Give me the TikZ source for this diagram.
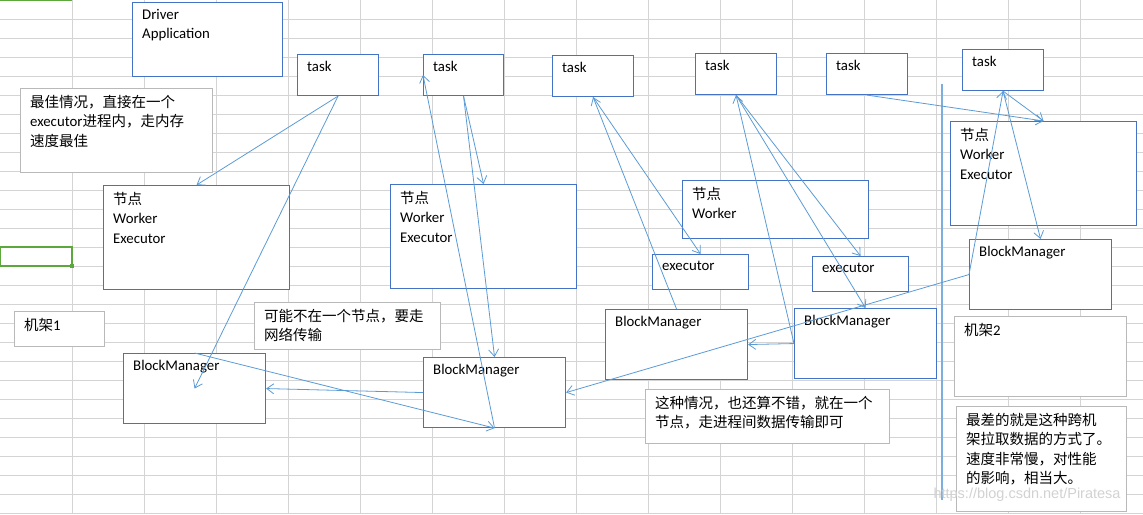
\documentclass[tikz,border=0pt]{standalone}
\usepackage{fontspec}
\setmainfont{Carlito}
\newfontfamily\cjk{Noto Sans CJK SC}
\newcommand{\zh}[1]{{\fontsize{14.5}{19.5}\cjk #1}}
\usetikzlibrary{arrows.meta}
\definecolor{boxblue}{RGB}{68,114,196}
\definecolor{linkblue}{RGB}{91,155,213}
\definecolor{gridgray}{RGB}{212,212,212}
\definecolor{selgreen}{RGB}{92,168,60}
\tikzset{
  box/.style={draw=boxblue, line width=1.1pt, fill=white, anchor=north west, inner sep=0pt},
  note/.style={draw=gray!55, line width=0.9pt, fill=white, anchor=north west, inner sep=0pt},
  txt/.style={anchor=north west, inner sep=0pt, xshift=10pt, yshift=-7pt, align=left,
    font=\fontsize{14.8}{19.5}\selectfont},
  link/.style={draw=linkblue, line width=0.8pt, -{Straight Barb[length=7pt,width=10pt]}},
}
\begin{document}
\begin{tikzpicture}[x=1pt,y=-1pt]
  \useasboundingbox (0,0) rectangle (1143,514);
  % sheet grid
  \foreach \gx in {72,144,...,1080} \draw[gridgray, line width=0.8pt] (\gx,0) -- (\gx,514);
  \foreach \gy in {19,38,...,513} \draw[gridgray, line width=0.8pt] (0,\gy) -- (1143,\gy);
  \draw[selgreen, line width=2pt] (0,0) -- (72,0);
  \draw[selgreen, line width=2.5pt] (0,247) rectangle (72,266);
  \fill[selgreen] (70,264) rectangle (74,268);
  % boxes
  \node[box, minimum width=150, minimum height=74, label={[txt]north west:Driver\\Application}] (drv) at (132,2) {};
  \node[box, minimum width=81, minimum height=41, label={[txt]north west:task}] (tA) at (297,54) {};
  \node[box, minimum width=80, minimum height=41, label={[txt]north west:task}] (tB) at (423,54) {};
  \node[box, minimum width=81, minimum height=41, label={[txt]north west:task}] (tC) at (552,55) {};
  \node[box, minimum width=81, minimum height=41, label={[txt]north west:task}] (tD) at (695,53) {};
  \node[box, minimum width=81, minimum height=41, label={[txt]north west:task}] (tE) at (826,53) {};
  \node[box, minimum width=81, minimum height=41, label={[txt]north west:task}] (tF) at (962,49) {};
  \node[box, minimum width=186, minimum height=104, label={[txt]north west:\zh{节点}\\Worker\\Executor}] (wA) at (103,185) {};
  \node[box, minimum width=186, minimum height=104, label={[txt]north west:\zh{节点}\\Worker\\Executor}] (wB) at (390,184) {};
  \node[box, minimum width=186, minimum height=58, label={[txt]north west:\zh{节点}\\Worker}] (wC) at (682,180) {};
  \node[box, minimum width=186, minimum height=104, label={[txt]north west:\zh{节点}\\Worker\\Executor}] (wF) at (950,121) {};
  \node[box, minimum width=96, minimum height=35, label={[txt]north west:executor}] (exA) at (652,254) {};
  \node[box, minimum width=96, minimum height=35, label={[txt]north west:executor}] (exB) at (812,256) {};
  \node[box, minimum width=142, minimum height=70, label={[txt]north west:BlockManager}] (bmA) at (123,353) {};
  \node[box, minimum width=142, minimum height=70, label={[txt]north west:BlockManager}] (bmB) at (423,357) {};
  \node[box, minimum width=142, minimum height=70, label={[txt]north west:BlockManager}] (bmC) at (605,309) {};
  \node[box, minimum width=142, minimum height=70, label={[txt]north west:BlockManager}] (bmD) at (794,308) {};
  \node[box, minimum width=142, minimum height=70, label={[txt]north west:BlockManager}] (bmF) at (969,239) {};
  % notes
  \node[note, minimum width=192, minimum height=84, label={[txt]north west:\zh{最佳情况，直接在一个}\\executor\zh{进程内，走内存}\\\zh{速度最佳}}] (nBest) at (20,88) {};
  \node[note, minimum width=90, minimum height=35, label={[txt]north west:\zh{机架}1}] (rackA) at (14,311) {};
  \node[note, minimum width=186, minimum height=47, label={[txt]north west:\zh{可能不在一个节点，要走}\\\zh{网络传输}}] (nNet) at (254,302) {};
  \node[note, minimum width=244, minimum height=54, label={[txt]north west:\zh{这种情况，也还算不错，就在一个}\\\zh{节点，走进程间数据传输即可}}] (nProc) at (645,389) {};
  \node[note, minimum width=172, minimum height=80, label={[txt]north west:\zh{机架}2}] (rackB) at (954,316) {};
  \node[note, minimum width=170, minimum height=105, label={[txt]north west:\zh{最差的就是这种跨机}\\\zh{架拉取数据的方式了。}\\\zh{速度非常慢，对性能}\\\zh{的影响，相当大。}}] (nWorst) at (956,406) {};
  % rack divider
  \draw[linkblue!80, line width=1.2pt] (942,84) -- (942,500);
  % links
  \draw[link] (tA.south) -- (wA.north);
  \draw[link] (tA.south) -- (bmA.center);
  \draw[link] (bmA.north) -- (bmB.south);
  \draw[link] (bmB.west) -- (bmA.east);
  \draw[link] (tB.south) -- (wB.north);
  \draw[link] (tB.south) -- (bmB.north);
  \draw[link] (bmB.south) -- (tB.west);
  \draw[link] (bmC.north) -- (tC.south);
  \draw[link] (tC.south) -- (exA.north);
  \draw[link] (tD.south) -- (exB.north);
  \draw[link] (tD.south) -- (bmD.north);
  \draw[link] (bmD.west) -- (tD.south);
  \draw[link] (bmD.west) -- (bmC.east);
  \draw[link] (tE.south) -- (wF.north);
  \draw[link] (tF.south) -- (wF.north);
  \draw[link] (tF.south) -- (bmF.north);
  \draw[link] (bmF.west) -- (tF.south);
  \draw[link] (bmF.west) -- (bmB.east);
  % watermark
  \node[anchor=west, text=gray!35, font=\fontsize{14.5}{15}\fontspec{Liberation Sans}] (mark) at (930,495) {https://blog.csdn.net/Piratesa};
\end{tikzpicture}
\end{document}
